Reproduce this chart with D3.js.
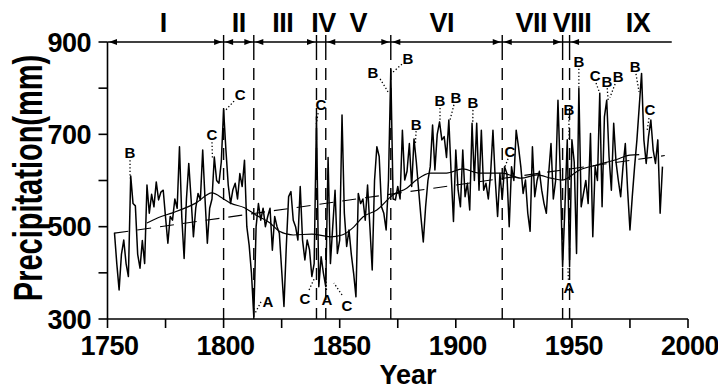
<!DOCTYPE html>
<html>
<head>
<meta charset="utf-8">
<script src="https://cdn.jsdelivr.net/npm/d3@7"></script>
<style>
  body { margin: 0; background: #fff; }
  svg { display: block; font-family: "Liberation Sans", Arial, Helvetica, sans-serif; }
</style>
</head>
<body>
<svg id="chart" width="718" height="389"></svg>
<script>
// annual precipitation (mm), 1753-1989
const firstYear = 1753
const precip = [
  487, 420, 363, 440, 471, 420, 392,
  610, 550, 545, 440, 410, 470, 420, 590, 529, 570,
  543, 597, 558, 575, 579, 520, 464, 522, 514, 560,
  540, 673, 520, 431, 560, 637, 560, 478, 540, 572,
  558, 666, 560, 464, 540, 560, 651, 600, 594, 640,
  753, 666, 590, 550, 580, 594, 560, 615, 587, 644,
  500, 460, 399, 305, 500, 550, 514, 540, 500, 522,
  540, 449, 522, 500, 486, 406, 327, 457, 565, 576,
  514, 500, 471, 587, 471, 428, 471, 450, 392, 420,
  738, 370, 435, 399, 370, 650, 420, 500, 579, 442,
  471, 742, 529, 457, 493, 440, 399, 348, 572, 550,
  560, 514, 590, 500, 406, 600, 673, 652, 543, 529,
  493, 600, 840, 560, 558, 587, 560, 709, 601, 620,
  680, 587, 690, 640, 579, 520, 467, 543, 600, 630,
  720, 623, 700, 727, 688, 695, 650, 731, 615, 511,
  666, 579, 543, 666, 565, 594, 536, 724, 600, 724,
  579, 709, 579, 594, 560, 615, 709, 601, 522, 615,
  560, 630, 615, 500, 630, 600, 709, 673, 630, 572,
  601, 529, 490, 673, 565, 600, 620, 579, 550, 529,
  615, 680, 560, 600, 774, 615, 413, 543, 688, 413,
  688, 640, 442, 800, 543, 572, 600, 550, 702, 478,
  630, 600, 789, 543, 738, 774, 652, 579, 724, 640,
  600, 565, 630, 680, 579, 493, 565, 630, 688, 760,
  832, 688, 637, 695, 731, 666, 637, 688, 529, 630
]

// running mean
const smoothYears = [1767, 1772, 1778, 1788, 1795, 1800, 1803, 1809, 1814, 1820, 1824, 1830, 1838, 1846, 1851, 1856, 1860, 1866, 1873, 1879, 1883, 1889, 1896, 1903, 1910, 1920, 1928, 1935, 1941, 1946, 1953, 1961, 1969, 1975, 1979]
const smoothValues = [508, 520, 530, 551, 573, 560, 551, 541, 525, 508, 490, 482, 484, 478, 482, 499, 521, 536, 569, 584, 601, 616, 616, 625, 616, 616, 605, 612, 605, 601, 622, 634, 645, 655, 656]

// linear trend end points
const trendYears = [1753, 1990]
const trendValues = [486, 654]

// climatic periods
const periodEdges = [1750, 1800, 1813, 1840, 1844, 1872, 1920, 1946, 1949, 1993]
const periodNames = ["I", "II", "III", "IV", "V", "VI", "VII", "VIII", "IX"]
const periodLabelYears = [1774, 1806.5, 1825.5, 1843, 1858, 1894, 1932.5, 1950, 1978.5]

// event letters: [text, year, value, leader from (year, value), leader to (year, value)]
const events = [
  ["B", 1759.7, 660, 1759.7, 644, 1759.7, 605],
  ["C", 1795.0, 699, 1795.0, 683, 1795.2, 648],
  ["C", 1807.1, 785, 1804.5, 772, 1801.0, 753],
  ["A", 1819.1, 337, 1816.1, 337, 1813.6, 313],
  ["C", 1835.0, 345, 1836.8, 363, 1839.2, 389],
  ["C", 1841.9, 764, 1840.7, 746, 1839.9, 722],
  ["A", 1844.5, 341, 1844.3, 363, 1844.1, 384],
  ["C", 1853.1, 330, 1851.0, 352, 1847.5, 378],
  ["B", 1864.3, 833, 1867.4, 820, 1870.8, 792],
  ["B", 1879.4, 865, 1876.8, 852, 1873.0, 835],
  ["B", 1882.9, 722, 1882.9, 707, 1882.6, 680],
  ["B", 1893.2, 772, 1893.2, 757, 1893.2, 727],
  ["B", 1900.1, 779, 1899.2, 764, 1897.5, 731],
  ["B", 1907.4, 768, 1907.4, 753, 1907.3, 724],
  ["C", 1923.3, 662, 1922.5, 647, 1921.2, 630],
  ["B", 1948.7, 753, 1948.7, 738, 1948.8, 690],
  ["B", 1953.0, 857, 1953.0, 842, 1953.0, 800],
  ["C", 1960.0, 828, 1960.4, 811, 1962.0, 789],
  ["B", 1965.1, 815, 1965.2, 800, 1965.6, 774],
  ["B", 1969.9, 824, 1968.6, 809, 1966.4, 780],
  ["B", 1977.2, 846, 1977.6, 831, 1978.9, 792],
  ["C", 1983.6, 753, 1983.2, 735, 1982.3, 705],
  ["A", 1948.7, 367, 1948.5, 385, 1948.3, 410]
]

const xTicks = d3.range(1750, 2001, 25)
const xLabels = [1750, 1800, 1850, 1900, 1950, 2000]
const yTicks = d3.range(300, 901, 100)
const yLabels = [300, 500, 700, 900]

const svg = d3.select("#chart")
const x = d3.scaleLinear().domain([1750, 2000]).range([107.5, 688])
const y = d3.scaleLinear().domain([300, 900]).range([319, 42])
const series = precip.map((v, i) => [firstYear + i, v])

// axes
svg.append("line")
  .attr("x1", x(1750)).attr("x2", x(1750)).attr("y1", y(900)).attr("y2", y(300))
  .attr("stroke", "#000").attr("stroke-width", 1.6)
svg.append("line")
  .attr("x1", x(1750)).attr("x2", x(2000)).attr("y1", y(300)).attr("y2", y(300))
  .attr("stroke", "#000").attr("stroke-width", 1.6)

svg.selectAll(".ytick").data(yTicks).enter().append("line")
  .attr("x1", x(1750) - 9).attr("x2", x(1750))
  .attr("y1", d => y(d)).attr("y2", d => y(d))
  .attr("stroke", "#000").attr("stroke-width", 1.6)
svg.selectAll(".ylab").data(yLabels).enter().append("text")
  .attr("x", 91).attr("y", d => y(d)).attr("dy", "0.36em")
  .attr("text-anchor", "end").attr("font-size", 27).attr("font-weight", "bold")
  .attr("letter-spacing", -0.5)
  .text(d => d)

svg.selectAll(".xtick").data(xTicks).enter().append("line")
  .attr("x1", d => x(d)).attr("x2", d => x(d))
  .attr("y1", y(300)).attr("y2", y(300) + 9)
  .attr("stroke", "#000").attr("stroke-width", 1.6)
svg.selectAll(".xlab").data(xLabels).enter().append("text")
  .attr("x", d => x(d) + 2).attr("y", 355)
  .attr("text-anchor", "middle").attr("font-size", 27).attr("font-weight", "bold")
  .attr("letter-spacing", -0.5)
  .text(d => d)

svg.append("text")
  .attr("x", 408).attr("y", 384)
  .attr("text-anchor", "middle").attr("font-size", 27).attr("font-weight", "bold")
  .text("Year")
svg.append("text")
  .attr("transform", "translate(42,178) rotate(-90) scale(1,1.4)")
  .attr("text-anchor", "middle").attr("font-size", 29).attr("font-weight", "bold")
  .text("Precipitation(mm)")

// period bar along the top
const barY = y(900)
svg.append("line")
  .attr("x1", x(1750)).attr("x2", x(periodEdges[periodEdges.length - 1]))
  .attr("y1", barY).attr("y2", barY)
  .attr("stroke", "#000").attr("stroke-width", 1.4)

const inner = periodEdges.slice(1, -1)
svg.selectAll(".bound").data(inner).enter().append("line")
  .attr("x1", d => x(d)).attr("x2", d => x(d))
  .attr("y1", barY - 7).attr("y2", barY + 18)
  .attr("stroke", "#000").attr("stroke-width", 1.4)
svg.selectAll(".bounddash").data(inner).enter().append("line")
  .attr("x1", d => x(d)).attr("x2", d => x(d))
  .attr("y1", barY + 26).attr("y2", y(300))
  .attr("stroke", "#000").attr("stroke-width", 1.4)
  .attr("stroke-dasharray", "12,8")

const arrows = []
periodNames.forEach((n, i) => {
  const a = x(periodEdges[i]), b = x(periodEdges[i + 1])
  if (b - a < 15) return
  arrows.push([a + 1.5, 1])
  if (i < periodNames.length - 1) arrows.push([b - 1.5, -1])
})
svg.selectAll(".arrow").data(arrows).enter().append("path")
  .attr("d", d => `M${d[0]},${barY}L${d[0] + d[1] * 8},${barY - 3}L${d[0] + d[1] * 8},${barY + 3}Z`)
  .attr("fill", "#000")

svg.selectAll(".pname").data(periodNames).enter().append("text")
  .attr("x", (d, i) => x(periodLabelYears[i])).attr("y", 32)
  .attr("text-anchor", "middle").attr("font-size", 27).attr("font-weight", "bold")
  .attr("letter-spacing", -0.5)
  .text(d => d)

// trend and running mean
svg.append("line")
  .attr("x1", x(trendYears[0])).attr("y1", y(trendValues[0]))
  .attr("x2", x(trendYears[1])).attr("y2", y(trendValues[1]))
  .attr("stroke", "#000").attr("stroke-width", 1.1)
  .attr("stroke-dasharray", "14,9")

svg.append("path")
  .datum(smoothYears.map((yr, i) => [yr, smoothValues[i]]))
  .attr("d", d3.line().x(d => x(d[0])).y(d => y(d[1])).curve(d3.curveMonotoneX))
  .attr("fill", "none").attr("stroke", "#000").attr("stroke-width", 1.2)

// annual series
svg.append("path")
  .datum(series)
  .attr("d", d3.line().x(d => x(d[0])).y(d => y(d[1])))
  .attr("fill", "none").attr("stroke", "#000").attr("stroke-width", 1.5)
  .attr("stroke-linejoin", "round")

// event letters
svg.selectAll(".leader").data(events).enter().append("line")
  .attr("x1", d => x(d[3])).attr("y1", d => y(d[4]))
  .attr("x2", d => x(d[5])).attr("y2", d => y(d[6]))
  .attr("stroke", "#000").attr("stroke-width", 1.3)
  .attr("stroke-dasharray", "1.3,2.2")
svg.selectAll(".evt").data(events).enter().append("text")
  .attr("x", d => x(d[1])).attr("y", d => y(d[2])).attr("dy", "0.36em")
  .attr("text-anchor", "middle").attr("font-size", 15).attr("font-weight", "bold")
  .text(d => d[0])
</script>
</body>
</html>
